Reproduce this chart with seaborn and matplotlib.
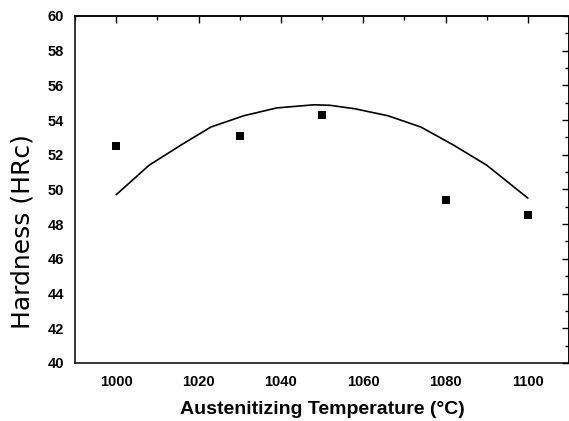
import numpy as np
import pandas as pd
import seaborn as sns
import matplotlib.pyplot as plt
from matplotlib.ticker import MultipleLocator

# measured hardness
temps = [1000, 1030, 1050, 1080, 1100]
hardness = [52.5, 53.1, 54.3, 49.4, 48.5]

# fitted curve
fit_x = [1000, 1008, 1016, 1023, 1031, 1039, 1048, 1052, 1058, 1066, 1074, 1082, 1090, 1100]
fit_y = [49.7, 51.4, 52.6, 53.6, 54.25, 54.7, 54.88, 54.85, 54.65, 54.25, 53.6, 52.55, 51.4, 49.5]

x_ticks = [1000, 1020, 1040, 1060, 1080, 1100]
y_ticks = list(range(40, 61, 2))

sns.set_style("white")
plt.rcParams["font.family"] = ["Liberation Sans", "DejaVu Sans"]
plt.rcParams["text.color"] = "black"
plt.rcParams["axes.labelcolor"] = "black"
plt.rcParams["xtick.color"] = "black"
plt.rcParams["ytick.color"] = "black"

points = pd.DataFrame({"T": temps, "HRc": hardness})
curve = pd.DataFrame({"T": fit_x, "HRc": fit_y})

fig = plt.figure(figsize=(5.69, 4.21), dpi=100)
ax = fig.add_axes([0.132, 0.138, 0.868, 0.824])

sns.lineplot(data=curve, x="T", y="HRc", color="black", linewidth=1.2,
             estimator=None, ax=ax)
sns.scatterplot(data=points, x="T", y="HRc", marker="s", s=40, color="black",
                linewidth=0, ax=ax, zorder=3)

ax.set_xlim(990, 1110)
ax.set_ylim(40, 60)
ax.set_xticks(x_ticks)
ax.set_yticks(y_ticks)
ax.xaxis.set_minor_locator(MultipleLocator(10))
ax.yaxis.set_minor_locator(MultipleLocator(1))

for s in ax.spines.values():
    s.set_linewidth(1.1)
    s.set_color("black")

ax.tick_params(which="major", direction="out", length=5, width=1,
               labelsize=10.5, labelcolor="black", pad=3)
ax.tick_params(which="minor", direction="out", length=3, width=1)
ax.tick_params(axis="x", pad=4)
for lab in ax.get_xticklabels() + ax.get_yticklabels():
    lab.set_fontweight("bold")

# top and right ticks point inward
top = ax.secondary_xaxis("top")
top.set_xticks(x_ticks)
top.xaxis.set_minor_locator(MultipleLocator(10))
top.tick_params(which="major", direction="in", length=5, width=1, labeltop=False)
top.tick_params(which="minor", direction="in", length=3, width=1)
right = ax.secondary_yaxis("right")
right.set_yticks(y_ticks)
right.yaxis.set_minor_locator(MultipleLocator(1))
right.tick_params(which="major", direction="in", length=5, width=1, labelright=False)
right.tick_params(which="minor", direction="in", length=3, width=1)
for sec in (top, right):
    for s in sec.spines.values():
        s.set_linewidth(1.1)
        s.set_color("black")

ax.set_xlabel("Austenitizing Temperature (°C)", fontsize=14, fontweight="bold",
              va="baseline")
ax.xaxis.set_label_coords(0.5, -0.147)
ax.set_ylabel("Hardness (HRc)", fontsize=18, family=["DejaVu Sans"], va="center")
ax.yaxis.set_label_coords(-0.107, 0.38)

fig.savefig("out.png", dpi=100)
